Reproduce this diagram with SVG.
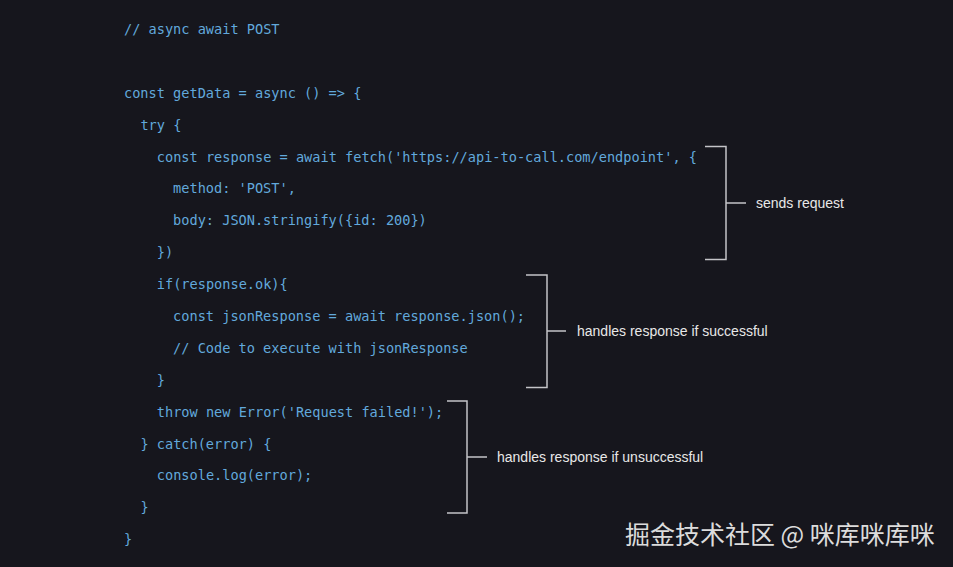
<svg xmlns="http://www.w3.org/2000/svg" width="953" height="567" viewBox="0 0 953 567">
<style>
.code{font-family:"DejaVu Sans Mono","Liberation Mono",monospace;font-size:13.6px;fill:#62a9dc;white-space:pre}
.lbl{font-family:"Liberation Sans","Noto Sans",sans-serif;font-size:14px;fill:#e8e8e8}
.br{fill:none;stroke:#c4c4c8;stroke-width:1.5}
.wm{font-family:"Noto Sans CJK SC","Noto Sans",sans-serif;font-size:25px;fill:#dcdcdc}
</style>
<rect width="953" height="567" fill="#16161d"/>
<g id="code">
<text class="code" x="124" y="34">// async await POST</text>
<text class="code" x="124" y="97.8">const getData = async () =&gt; {</text>
<text class="code" x="140.4" y="129.7">try {</text>
<text class="code" x="156.8" y="161.5">const response = await fetch('https://api-to-call.com/endpoint', {</text>
<text class="code" x="173.1" y="193.4">method: 'POST',</text>
<text class="code" x="173.1" y="225.3">body: JSON.stringify({id: 200})</text>
<text class="code" x="156.8" y="257.2">})</text>
<text class="code" x="156.8" y="289.1">if(response.ok){</text>
<text class="code" x="173.1" y="321">const jsonResponse = await response.json();</text>
<text class="code" x="173.1" y="352.9">// Code to execute with jsonResponse</text>
<text class="code" x="156.8" y="384.7">}</text>
<text class="code" x="156.8" y="416.6">throw new Error('Request failed!');</text>
<text class="code" x="140.4" y="448.5">} catch(error) {</text>
<text class="code" x="156.8" y="480.4">console.log(error);</text>
<text class="code" x="140.4" y="512.3">}</text>
<text class="code" x="124" y="544">}</text>
</g>
<g id="connectors">
<path class="br" d="M705 146.5H726V259.5H705M726 203H746"/>
<path class="br" d="M526 275H547V387.5H526M547 331H566"/>
<path class="br" d="M447 401H467V513H447M467 457H487"/>
</g>
<g id="label-sends">
<text class="lbl" x="756" y="208">sends request</text>
</g>
<g id="label-success">
<text class="lbl" x="577" y="336">handles response if successful</text>
</g>
<g id="label-fail">
<text class="lbl" x="497" y="462">handles response if unsuccessful</text>
</g>
<g id="watermark">
<text class="wm" x="625" y="544">掘金技术社区 @ 咪库咪库咪</text>
</g>
</svg>
